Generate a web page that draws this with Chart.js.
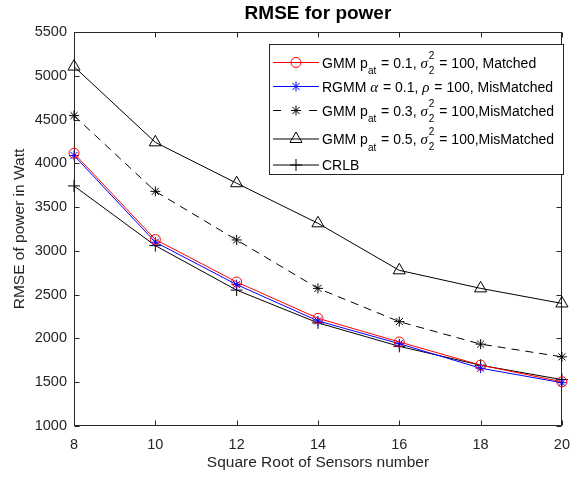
<!DOCTYPE html>
<html>
<head>
<meta charset="utf-8">
<script src="https://cdn.jsdelivr.net/npm/chart.js@4/dist/chart.umd.min.js"></script>
<style>
	body { margin: 0; background: #fff; }
	#wrap { width: 580px; height: 481px; position: relative; }
</style>
</head>
<body>
<div id="wrap"><canvas id="chart"></canvas></div>
<script>
var sensors = [8, 10, 12, 14, 16, 18, 20];
var gmm_01_matched = [4115, 3130, 2645, 2230, 1960, 1695, 1505];
var rgmm_01_mismatched = [4090, 3100, 2615, 2200, 1940, 1660, 1495];
var gmm_03_mismatched = [4545, 3680, 3125, 2572, 2192, 1935, 1790];
var gmm_05_mismatched = [5105, 4240, 3773, 3315, 2778, 2572, 2400];
var crlb = [3742, 3060, 2552, 2178, 1910, 1694, 1530];

var x_ticks = [8, 10, 12, 14, 16, 18, 20];
var y_ticks = [1000, 1500, 2000, 2500, 3000, 3500, 4000, 4500, 5000, 5500];

// legend text, pieces: plain, italic greek, subscript, stacked sup/sub
var legend_labels = [
	[{t: 'GMM p'}, {sub: 'at'}, {t: ' = 0.1, '}, {it: '\u03c3'}, {sup: '2', sub: '2'}, {t: ' = 100, Matched'}],
	[{t: 'RGMM '}, {it: '\u03b1'}, {t: ' = 0.1, '}, {it: '\u03c1'}, {t: ' = 100, MisMatched'}],
	[{t: 'GMM p'}, {sub: 'at'}, {t: ' = 0.3, '}, {it: '\u03c3'}, {sup: '2', sub: '2'}, {t: ' = 100,MisMatched'}],
	[{t: 'GMM p'}, {sub: 'at'}, {t: ' = 0.5, '}, {it: '\u03c3'}, {sup: '2', sub: '2'}, {t: ' = 100,MisMatched'}],
	[{t: 'CRLB'}]
];
var legend_rows = [62.5, 86.5, 110.5, 139, 165];

var axis_color = '#262626';
var font_family = '"Liberation Sans", Arial, Helvetica, sans-serif';

function toPoints(vals) {
	return sensors.map(function(s, i) {
		return {x: s, y: vals[i]};
	});
}

function makeSet(label, vals, color, style, radius, dash) {
	return {
		label: label,
		data: toPoints(vals),
		borderColor: color,
		borderWidth: 1,
		borderDash: dash || [],
		pointStyle: style,
		pointRadius: radius,
		pointBorderColor: color,
		pointBackgroundColor: 'rgba(0,0,0,0)',
		pointBorderWidth: 1,
		tension: 0,
		fill: false,
		clip: false
	};
}

var datasets = [
	makeSet('GMM 0.1 Matched', gmm_01_matched, '#ff0000', 'circle', 5),
	makeSet('RGMM 0.1 MisMatched', rgmm_01_mismatched, '#0000ff', 'star', 5),
	makeSet('GMM 0.3 MisMatched', gmm_03_mismatched, '#000000', 'star', 5, [8, 6]),
	makeSet('GMM 0.5 MisMatched', gmm_05_mismatched, '#000000', 'triangle', 7),
	makeSet('CRLB', crlb, '#000000', 'cross', 6)
];

function drawRich(ctx, parts, x, y) {
	var size = 14, small = 10;
	ctx.textBaseline = 'alphabetic';
	ctx.textAlign = 'left';
	parts.forEach(function(p) {
		if (p.t) {
			ctx.font = size + 'px ' + font_family;
			ctx.fillText(p.t, x, y);
			x += ctx.measureText(p.t).width;
		} else if (p.it) {
			ctx.font = 'italic ' + (size + 1) + 'px "Liberation Serif", "DejaVu Serif", serif';
			ctx.fillText(p.it, x, y);
			x += ctx.measureText(p.it).width + 1;
		} else {
			ctx.font = small + 'px ' + font_family;
			var w = 0;
			if (p.sup) {
				ctx.fillText(p.sup, x, y - 9);
				w = ctx.measureText(p.sup).width;
			}
			if (p.sub) {
				ctx.fillText(p.sub, x, y + (p.sup ? 6 : 6.5));
				w = Math.max(w, ctx.measureText(p.sub).width);
			}
			x += w + 1;
		}
	});
}

var matlabAxes = {
	id: 'matlabAxes',
	beforeDatasetsDraw: function(chart) {
		var ctx = chart.ctx;
		var a = chart.chartArea;
		var sx = chart.scales.x;
		var sy = chart.scales.y;
		var l = Math.round(a.left) + 0.5, r = Math.round(a.right) - 0.5;
		var t = Math.round(a.top) + 0.5, b = Math.round(a.bottom) - 0.5;
		var tl = 5;
		ctx.save();
		ctx.strokeStyle = axis_color;
		ctx.lineWidth = 1;
		ctx.beginPath();
		ctx.rect(l, t, r - l, b - t);
		x_ticks.forEach(function(v) {
			var px = Math.round(sx.getPixelForValue(v)) + 0.5;
			ctx.moveTo(px, b); ctx.lineTo(px, b - tl);
			ctx.moveTo(px, t); ctx.lineTo(px, t + tl);
		});
		y_ticks.forEach(function(v) {
			var py = Math.round(sy.getPixelForValue(v)) + 0.5;
			ctx.moveTo(l, py); ctx.lineTo(l + tl, py);
			ctx.moveTo(r, py); ctx.lineTo(r - tl, py);
		});
		ctx.stroke();
		ctx.restore();
	},
	afterDatasetsDraw: function(chart) {
		var ctx = chart.ctx;
		var a = chart.chartArea;
		ctx.save();

		// title
		ctx.fillStyle = '#000';
		ctx.font = 'bold 19px ' + font_family;
		ctx.textAlign = 'center';
		ctx.textBaseline = 'middle';
		ctx.fillText('RMSE for power', (a.left + a.right) / 2, 14);

		// legend box
		var bx = 269.5, by = 44.5, bw = 294, bh = 130;
		ctx.fillStyle = '#fff';
		ctx.fillRect(bx, by, bw, bh);
		ctx.strokeStyle = axis_color;
		ctx.lineWidth = 1;
		ctx.strokeRect(bx, by, bw, bh);

		datasets.forEach(function(ds, i) {
			var y = legend_rows[i];
			ctx.save();
			ctx.strokeStyle = ds.borderColor;
			ctx.fillStyle = 'rgba(0,0,0,0)';
			ctx.lineWidth = 1;
			ctx.setLineDash(ds.borderDash);
			ctx.beginPath();
			if (ds.borderDash.length) {
				ctx.moveTo(273, y); ctx.lineTo(283, y);
				ctx.moveTo(309, y); ctx.lineTo(319, y);
			} else {
				ctx.moveTo(273, y); ctx.lineTo(319, y);
			}
			ctx.stroke();
			ctx.setLineDash([]);
			Chart.helpers.drawPoint(ctx, {
				pointStyle: ds.pointStyle,
				radius: ds.pointRadius,
				rotation: 0,
				borderWidth: 1
			}, 296, y);
			ctx.restore();
			ctx.fillStyle = '#000';
			drawRich(ctx, legend_labels[i], 322, y + 5);
		});
		ctx.restore();
	}
};

function plainTick(value) {
	return String(value);
}

var ctx = document.getElementById('chart').getContext('2d');
var myChart = new Chart(ctx, {
	type: 'line',
	data: { datasets: datasets },
	plugins: [matlabAxes],
	options: {
		animation: false,
		responsive: true,
		maintainAspectRatio: false,
		devicePixelRatio: 1,
		layout: { padding: { top: 32, right: 7, left: 0, bottom: 0 } },
		plugins: {
			legend: { display: false },
			tooltip: { enabled: false },
			title: { display: false }
		},
		scales: {
			x: {
				type: 'linear',
				min: 8,
				max: 20,
				afterFit: function(scale) { scale.height = 55; },
				afterBuildTicks: function(scale) {
					scale.ticks = x_ticks.map(function(v) { return {value: v}; });
				},
				grid: { display: false, drawTicks: false },
				border: { display: false },
				ticks: {
					color: axis_color,
					padding: 10,
					maxRotation: 0,
					callback: plainTick,
					font: { family: font_family, size: 14.5 }
				},
				title: {
					display: true,
					text: 'Square Root of Sensors number',
					color: axis_color,
					padding: { top: 0, bottom: 9 },
					font: { family: font_family, size: 15.5 }
				}
			},
			y: {
				type: 'linear',
				min: 1000,
				max: 5500,
				afterFit: function(scale) { scale.width = 74; },
				afterBuildTicks: function(scale) {
					scale.ticks = y_ticks.map(function(v) { return {value: v}; });
				},
				grid: { display: false, drawTicks: false },
				border: { display: false },
				ticks: {
					color: axis_color,
					padding: 7,
					callback: plainTick,
					font: { family: font_family, size: 14.5 }
				},
				title: {
					display: true,
					text: 'RMSE of power in Watt',
					color: axis_color,
					padding: { top: 10, bottom: 0 },
					font: { family: font_family, size: 15.5 }
				}
			}
		}
	}
});
</script>
</body>
</html>
